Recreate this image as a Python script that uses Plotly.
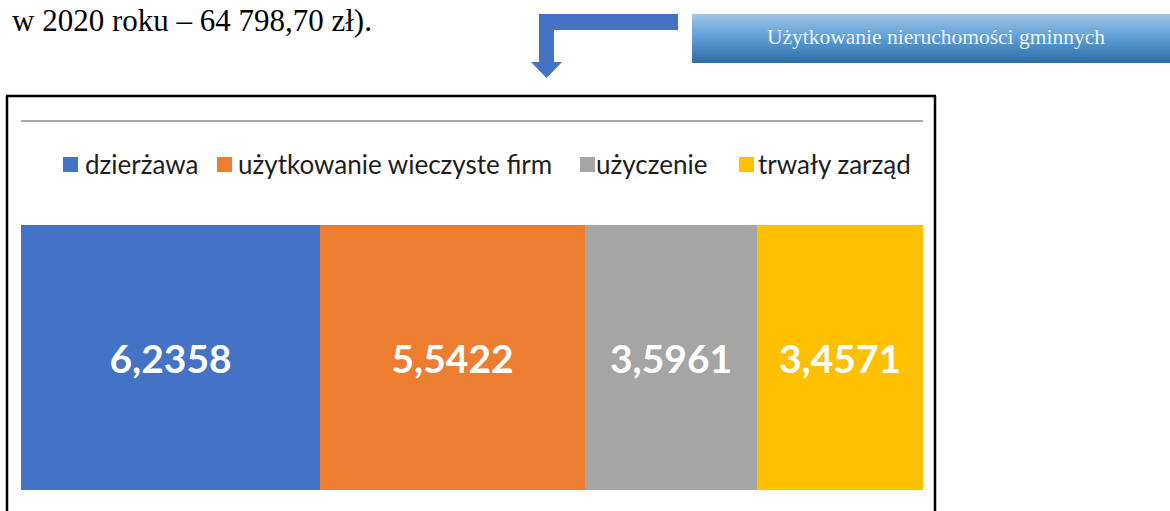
import plotly.graph_objects as go

W, H = 1170, 511

# ---- data ----
categories = ["dzierżawa", "użytkowanie wieczyste firm", "użyczenie", "trwały zarząd"]
values = [6.2358, 5.5422, 3.5961, 3.4571]
colors = ["#4472C4", "#ED7D31", "#A5A5A5", "#FFC000"]
labels = [f"{v:.4f}".replace(".", ",") for v in values]
header_text = "w 2020 roku – 64 798,70 zł)."
box_text = "Użytkowanie nieruchomości gminnych"


def X(px):
    return px / W


def Y(py):
    return 1 - py / H


fig = go.Figure()
for name, v, c, lab in zip(categories, values, colors, labels):
    fig.add_trace(go.Bar(
        y=[0], x=[v], name=name, orientation="h", width=1,
        marker=dict(color=c, line=dict(width=0)),
        text=[lab], textposition="inside", insidetextanchor="middle",
        textangle=0, constraintext="none",
        textfont=dict(family="Lato", size=39, color="white", weight="bold"),
        showlegend=False, hoverinfo="skip",
    ))

shapes = []
# outer frame of chart (left, top, right)
shapes.append(dict(type="line", xref="paper", yref="paper", x0=X(7), x1=X(7), y0=Y(96), y1=Y(530),
                   line=dict(color="black", width=2.5)))
shapes.append(dict(type="line", xref="paper", yref="paper", x0=X(6), x1=X(936), y0=Y(96), y1=Y(96),
                   line=dict(color="black", width=2.5)))
shapes.append(dict(type="line", xref="paper", yref="paper", x0=X(935), x1=X(935), y0=Y(96), y1=Y(530),
                   line=dict(color="black", width=2.5)))
# thin gray rule under the top
shapes.append(dict(type="line", xref="paper", yref="paper", x0=X(21), x1=X(923), y0=Y(121), y1=Y(121),
                   line=dict(color="#8C8C8C", width=1.5)))

# legend squares
leg_sq_x = [63, 217, 580, 739]
leg_txt_x = [83, 236, 594, 756]
for sx, c in zip(leg_sq_x, colors):
    shapes.append(dict(type="rect", xref="paper", yref="paper", x0=X(sx), x1=X(sx + 15),
                       y0=Y(172), y1=Y(157), fillcolor=c, line=dict(width=0)))

# bent arrow
pts = [(678, 14), (678, 30), (554, 30), (554, 62), (562, 62), (546.5, 78), (531, 62), (539, 62), (539, 14)]
path = "M " + " L ".join(f"{X(a):.5f},{Y(b):.5f}" for a, b in pts) + " Z"
shapes.append(dict(type="path", xref="paper", yref="paper", path=path,
                   fillcolor="#4472C4", line=dict(width=0)))

# gradient header box (stacked thin strips)
top, bot = 14, 63
stops = [(0.0, (158, 196, 231)), (0.5, (92, 156, 213)), (1.0, (46, 108, 165))]


def grad(t):
    for (t0, c0), (t1, c1) in zip(stops[:-1], stops[1:]):
        if t <= t1:
            f = (t - t0) / (t1 - t0)
            return tuple(int(round(a + (b - a) * f)) for a, b in zip(c0, c1))
    return stops[-1][1]


n = bot - top
for i in range(n):
    r, g, b = grad(i / (n - 1))
    shapes.append(dict(type="rect", xref="paper", yref="paper", x0=X(692), x1=X(1175),
                       y0=Y(top + i + 1.05), y1=Y(top + i), fillcolor=f"rgb({r},{g},{b})",
                       line=dict(width=0), layer="below"))

annotations = [
    dict(text=header_text, xref="paper", yref="paper", x=X(10), y=Y(21), xanchor="left", yanchor="middle",
         showarrow=False, font=dict(family="Liberation Serif", size=31, color="black")),
    dict(text=box_text, xref="paper", yref="paper", x=X(936), y=Y(37), xanchor="center", yanchor="middle",
         showarrow=False, font=dict(family="Liberation Serif", size=21.5, color="#EEF4FA")),
]
for tx, name in zip(leg_txt_x, categories):
    annotations.append(dict(text=name, xref="paper", yref="paper", x=X(tx), y=Y(164), xanchor="left",
                            yanchor="middle", showarrow=False,
                            font=dict(family="Lato", size=26, color="#1E1E1E")))

fig.update_layout(
    width=W, height=H, autosize=False,
    margin=dict(l=0, r=0, t=0, b=0),
    paper_bgcolor="white", plot_bgcolor="white",
    barmode="stack", bargap=0,
    xaxis=dict(domain=[X(21), X(923)], range=[0, sum(values)], visible=False, fixedrange=True),
    yaxis=dict(domain=[Y(490), Y(225)], range=[-0.5, 0.5], visible=False, fixedrange=True),
    shapes=shapes, annotations=annotations,
    showlegend=False,
)

fig.write_html("out.html", config={"displayModeBar": False},
               post_script="document.body.style.margin='0';")
